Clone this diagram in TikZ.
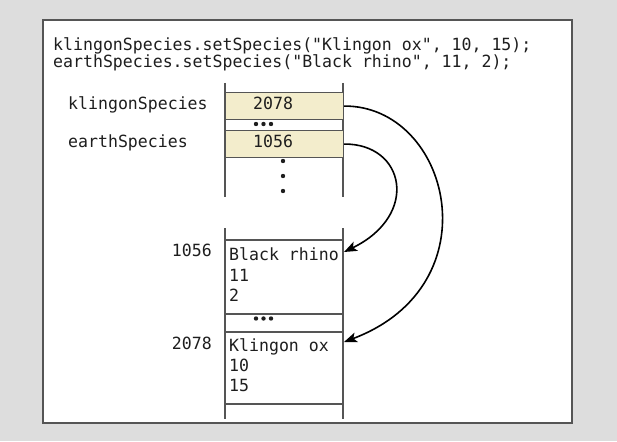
\documentclass[tikz,border=0pt]{standalone}
\usepackage{fontspec}
\usetikzlibrary{arrows.meta}
\newfontfamily\codefont{DejaVu Sans Mono}[FakeStretch=0.985]
\definecolor{bggray}{HTML}{DDDDDD}
\definecolor{framegray}{HTML}{555555}
\definecolor{cellfill}{HTML}{F3EDCC}
\definecolor{txt}{HTML}{1E1E1E}
\tikzset{
  code/.style={inner sep=0pt, anchor=base west, text=txt, font=\codefont\fontsize{16.8}{20}\selectfont},
  codeE/.style={code, anchor=base east},
  memline/.style={draw=framegray, line width=1.1pt},
  cellbox/.style={draw=framegray, line width=1.1pt, fill=cellfill, minimum width=118pt, minimum height=27pt, inner sep=0pt, anchor=north west},
  ptr/.style={draw=black, line width=1.6pt, -{Stealth[length=13pt,width=10pt,inset=3pt]}},
  dot/.style={circle, fill=txt, inner sep=0pt, minimum size=4.4pt}
}
\begin{document}
\begin{tikzpicture}[x=1pt,y=-1pt]
\fill[bggray] (0,0) rectangle (617,441);
\useasboundingbox (0,0) rectangle (617,441);
\draw[framegray, line width=1.6pt, fill=white] (43,20) rectangle (572,423);

\node[code] (l1) at (53,51) {klingonSpecies.setSpecies("Klingon ox", 10, 15);};
\node[code] (l2) at (53,68) {earthSpecies.setSpecies("Black rhino", 11, 2);};

% upper memory column
\draw[memline] (225,83) -- (225,197);
\draw[memline] (343,83) -- (343,197);
\node[cellbox] (c2078) at (225,92) {};
\node[cellbox] (c1056) at (225,130) {};
\node[code] (v2078) at (253,110) {2078};
\node[code] (v1056) at (253,147) {1056};
\node[code] (kl) at (68,110) {klingonSpecies};
\node[code] (ea) at (68,147) {earthSpecies};
\node[dot] (d1) at (256,124) {};
\node[dot] (d2) at (263.5,124) {};
\node[dot] (d3) at (271,124) {};
\node[dot] (v1) at (283,161) {};
\node[dot] (v2) at (283,176) {};
\node[dot] (v3) at (283,191) {};

% lower memory column
\draw[memline] (225,228) -- (225,419);
\draw[memline] (343,228) -- (343,419);
\draw[memline] (225,240) -- (343,240);
\draw[memline] (225,314) -- (343,314);
\draw[memline] (225,332) -- (343,332);
\draw[memline] (225,404) -- (343,404);
\node[dot] (e1) at (256,318.5) {};
\node[dot] (e2) at (263.5,318.5) {};
\node[dot] (e3) at (271,318.5) {};

\node[codeE] (a1056) at (212,256) {1056};
\node[codeE] (a2078) at (212,349) {2078};
\node[code] (br) at (229,260) {Black rhino};
\node[code] (n11) at (229,281) {11};
\node[code] (n2) at (229,301) {2};
\node[code] (ko) at (229,351) {Klingon ox};
\node[code] (n10) at (229,371) {10};
\node[code] (n15) at (229,391) {15};

\coordinate (t1) at (344,252);
\coordinate (t2) at (344,342);

\draw[ptr] (c1056.east) .. controls (405,143.5) and (420,215) .. (t1);
\draw[ptr] (c2078.east) .. controls (450,105.5) and (495,285) .. (t2);
\end{tikzpicture}
\end{document}
